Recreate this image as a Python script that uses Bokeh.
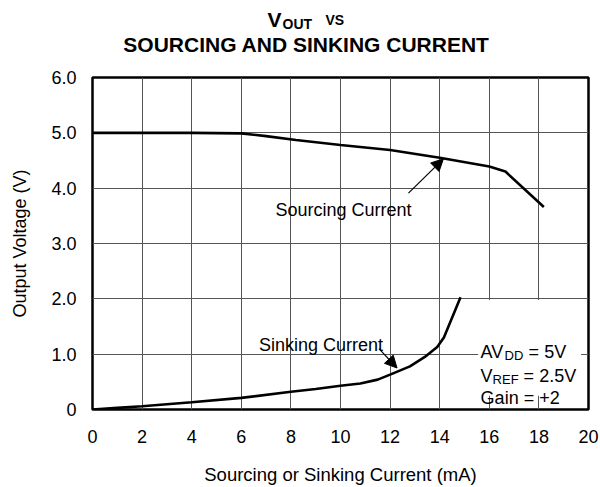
from bokeh.plotting import figure
from bokeh.layouts import column
from bokeh.models import FixedTicker, Label, Arrow, NormalHead
from bokeh.embed import file_html
from bokeh.resources import INLINE

# ---- data ----
src_x = [0, 2, 4, 6, 7, 8.2, 10, 12, 14, 16, 16.65, 18.2]
src_y = [5.0, 5.0, 5.0, 4.99, 4.94, 4.87, 4.78, 4.69, 4.55, 4.39, 4.30, 3.66]

snk_x = [0, 1, 2, 4, 6, 8, 9, 10, 10.8, 11.5, 12, 12.8, 13.4, 13.9, 14.17, 14.84]
snk_y = [0.0, 0.03, 0.06, 0.13, 0.21, 0.32, 0.37, 0.43, 0.47, 0.54, 0.63, 0.78, 0.95, 1.13, 1.30, 2.03]

x_ticks = [0, 2, 4, 6, 8, 10, 12, 14, 16, 18, 20]
y_ticks = [0, 1, 2, 3, 4, 5, 6]
y_tick_labels = ["0", "1.0", "2.0", "3.0", "4.0", "5.0", "6.0"]

FONT = "Liberation Sans"
W = 600
BL, BR = 92, 12

# ---- title strip (x in page pixels) ----
t = figure(width=W, height=60, x_range=(BL, W - BR), y_range=(0, 60),
           output_backend="svg", toolbar_location=None,
           min_border_left=BL, min_border_right=BR, min_border_top=0, min_border_bottom=0)
t.axis.visible = False
t.grid.visible = False
t.outline_line_color = None
t.background_fill_color = "white"
t.border_fill_color = "white"


def tl(text, x, y, size, align="left"):
    t.add_layout(Label(x=x, y=y, text=text, text_font=FONT, text_font_size=f"{size}px",
                       text_font_style="bold", text_color="black",
                       text_align=align, text_baseline="alphabetic"))


tl("V", 267, 41, 21)
tl("OUT", 282, 37, 14)
tl("VS", 325, 41, 14)
tl("SOURCING AND SINKING CURRENT", 306, 16.5, 21, align="center")

# ---- main plot ----
p = figure(width=W, height=427, x_range=(0, 20), y_range=(0, 6),
           output_backend="svg", toolbar_location=None,
           min_border_left=BL, min_border_right=BR, min_border_top=17, min_border_bottom=76)

p.background_fill_color = "white"
p.border_fill_color = "white"
p.outline_line_color = "black"
p.outline_line_width = 2.5

p.xaxis.ticker = FixedTicker(ticks=x_ticks)
p.yaxis.ticker = FixedTicker(ticks=y_ticks)
p.yaxis.major_label_overrides = {tk: lb for tk, lb in zip(y_ticks, y_tick_labels)}
p.xgrid.ticker = FixedTicker(ticks=x_ticks)
p.ygrid.ticker = FixedTicker(ticks=y_ticks)
for g in (p.xgrid, p.ygrid):
    g.grid_line_color = "#555555"
    g.grid_line_width = 1
    g.grid_line_alpha = 1.0

for ax in (p.xaxis, p.yaxis):
    ax.axis_line_color = None
    ax.major_tick_line_color = None
    ax.minor_tick_line_color = None
    ax.major_tick_out = 0
    ax.major_tick_in = 0
    ax.minor_tick_out = 0
    ax.major_label_text_font = FONT
    ax.major_label_text_color = "black"
    ax.axis_label_text_font = FONT
    ax.axis_label_text_font_style = "normal"
    ax.axis_label_text_color = "black"

p.xaxis.axis_label = "Sourcing or Sinking Current (mA)"
p.yaxis.axis_label = "Output Voltage (V)"
p.xaxis.major_label_text_font_size = "18px"
p.yaxis.major_label_text_font_size = "18px"
p.xaxis.axis_label_text_font_size = "18.5px"
p.yaxis.axis_label_text_font_size = "18px"
p.xaxis.major_label_standoff = 20
p.yaxis.major_label_standoff = 16
p.xaxis.axis_label_standoff = 18
p.yaxis.axis_label_standoff = 18

# white box behind the conditions text
p.quad(left=[15.55], right=[19.7], bottom=[0.25], top=[1.98],
       fill_color="white", line_color=None)

p.line(src_x, src_y, line_color="black", line_width=2.6)
p.line(snk_x, snk_y, line_color="black", line_width=2.6)

# arrows
p.add_layout(Arrow(x_start=12.74, y_start=3.91, x_end=14.15, y_end=4.53,
                   line_color="black", line_width=1.2,
                   end=NormalHead(size=12, fill_color="black", line_color="black")))
p.add_layout(Arrow(x_start=11.55, y_start=1.10, x_end=12.28, y_end=0.75,
                   line_color="black", line_width=1.2,
                   end=NormalHead(size=12, fill_color="black", line_color="black")))


def lab(text, x, y, size, xo=0, yo=0, align="left"):
    p.add_layout(Label(x=x, y=y, x_offset=xo, y_offset=yo, text=text,
                       text_font=FONT, text_font_size=f"{size}px",
                       text_color="black", text_align=align, text_baseline="alphabetic"))


lab("Sourcing Current", 10.12, 3.61, 18, align="center")
lab("Sinking Current", 9.21, 1.167, 18, align="center")

# conditions
lab("AV", 15.65, 1.04, 18)
lab("DD", 15.65, 1.04, 13, xo=24, yo=-4)
lab("= 5V", 15.65, 1.04, 18, xo=48)
lab("V", 15.65, 0.61, 18)
lab("REF", 15.65, 0.61, 13, xo=12, yo=-4)
lab("= 2.5V", 15.65, 0.61, 18, xo=43)
lab("Gain = +2", 15.65, 0.20, 18)

layout = column(t, p, spacing=0)
open("out.html", "w").write(file_html(layout, INLINE))
